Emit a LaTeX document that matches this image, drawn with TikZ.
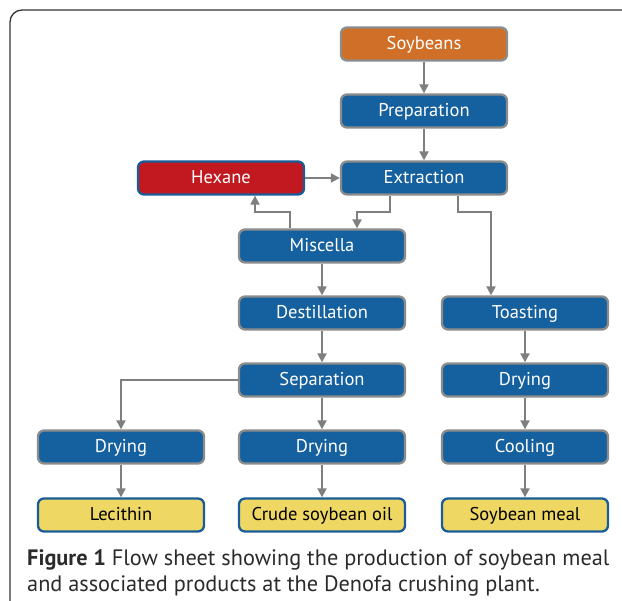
\documentclass[tikz,border=0pt]{standalone}
\usepackage{fontspec}
\setmainfont{PT Sans}
\usetikzlibrary{arrows.meta}
\definecolor{boxblue}{HTML}{15609E}
\definecolor{boxgray}{HTML}{8C8C8C}
\definecolor{soyorange}{HTML}{D06F27}
\definecolor{hexred}{HTML}{C1191F}
\definecolor{prodyellow}{HTML}{EED863}
\definecolor{edgeblue}{HTML}{1A5C9A}
\definecolor{arrowgray}{HTML}{7F7F7F}
\definecolor{captext}{HTML}{2B2B2B}
\begin{document}
\begin{tikzpicture}[x=1pt,y=-1pt,
  stepbox/.style={draw=boxgray,line width=2.3pt,fill=boxblue,rounded corners=6pt,
    minimum width=166pt,minimum height=33pt,inner sep=0pt,text=white,
    text height=13pt,text depth=1pt,font=\fontsize{18.5}{21}\selectfont},
  rawbox/.style={stepbox,fill=soyorange},
  hexbox/.style={stepbox,draw=edgeblue,fill=hexred},
  prodbox/.style={stepbox,draw=edgeblue,fill=prodyellow,text=black},
  flow/.style={draw=arrowgray,line width=2pt,-{Triangle[length=9pt,width=9pt]}}]
\useasboundingbox (0,0) rectangle (622,601);
\begin{scope}
\clip (0,0) rectangle (622,601);
\draw[line width=1.3pt,draw=black!80,rounded corners=12pt] (10,700) -- (10,10) -- (700,10);
\end{scope}
\node[rawbox] (soy) at (424,44) {Soybeans};
\node[stepbox] (prep) at (424,111) {Preparation};
\node[hexbox] (hex) at (221,178) {Hexane};
\node[stepbox] (extr) at (424,178) {Extraction};
\node[stepbox] (misc) at (322,246) {Miscella};
\node[stepbox] (dest) at (322,313) {Destillation};
\node[stepbox] (toast) at (525,313) {Toasting};
\node[stepbox] (sep) at (322,380) {Separation};
\node[stepbox] (dry3) at (525,380) {Drying};
\node[stepbox] (dry1) at (121,447) {Drying};
\node[stepbox] (dry2) at (322,447) {Drying};
\node[stepbox] (cool) at (525,447) {Cooling};
\node[prodbox] (lec) at (121,515) {Lecithin};
\node[prodbox] (oil) at (322,515) {Crude soybean oil};
\node[prodbox] (meal) at (525,515) {Soybean meal};
\draw[flow] (soy) -- (prep);
\draw[flow] (prep) -- (extr);
\draw[flow] (hex) -- (extr);
\draw[flow] (extr.south -| 390,0) |- (357,212) -- (misc.north -| 357,0);
\draw[flow] (misc.north -| 290,0) |- (255,212) -- (hex.south -| 255,0);
\draw[flow] (extr.south -| 458,0) |- (491,212) -- (toast.north -| 491,0);
\draw[flow] (misc) -- (dest);
\draw[flow] (dest) -- (sep);
\draw[flow] (sep.west) -| (dry1.north);
\draw[flow] (sep) -- (dry2);
\draw[flow] (dry1) -- (lec);
\draw[flow] (dry2) -- (oil);
\draw[flow] (toast) -- (dry3);
\draw[flow] (dry3) -- (cool);
\draw[flow] (cool) -- (meal);
\node[anchor=base west,align=left,inner sep=0pt,text=captext,font=\fontsize{22.3}{26}\selectfont] (cap) at (27,592)
  {\textbf{Figure 1} Flow sheet showing the production of soybean meal\\and associated products at the Denofa crushing plant.};
\end{tikzpicture}
\end{document}
